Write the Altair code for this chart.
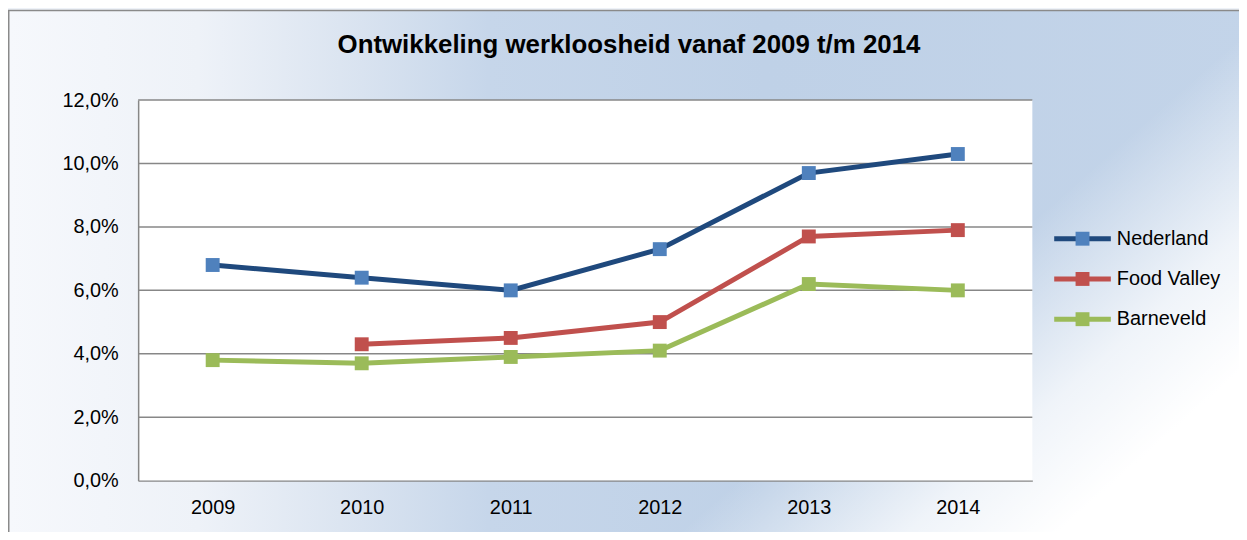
import altair as alt
import pandas as pd

# ---- data ----
years = ["2009", "2010", "2011", "2012", "2013", "2014"]
series = ["Nederland", "Food Valley", "Barneveld"]
nederland = [6.8, 6.4, 6.0, 7.3, 9.7, 10.3]
food_valley = [None, 4.3, 4.5, 5.0, 7.7, 7.9]
barneveld = [3.8, 3.7, 3.9, 4.1, 6.2, 6.0]
line_colors = ["#1F497D", "#C0504D", "#9BBB59"]
marker_colors = ["#4F81BD", "#C0504D", "#9BBB59"]
y_ticks = [0, 2, 4, 6, 8, 10, 12]
grid_values = [2, 4, 6, 8, 10, 12]
title_text = "Ontwikkeling werkloosheid vanaf 2009 t/m 2014"

FONT = "Liberation Sans, Arial, sans-serif"
GRID = "#878787"

rows = []
for name, vals in zip(series, [nederland, food_valley, barneveld]):
    for yr, v in zip(years, vals):
        if v is not None:
            rows.append({"year": yr, "series": name, "pct": v})
df = pd.DataFrame(rows)
grid_df = pd.DataFrame({"pct": grid_values})

W, H = 900, 383

x_axis = alt.Axis(title=None, labelAngle=0, ticks=False, grid=False,
                  domainColor=GRID, domainWidth=1.5, labelFontSize=20,
                  labelFont=FONT, labelColor="black", labelPadding=17, zindex=1)
y_axis = alt.Axis(title=None, values=y_ticks, grid=False, ticks=False,
                  labelExpr="replace(format(datum.value, '.1f'), '.', ',') + '%'",
                  domainColor=GRID, domainWidth=1.5, labelFontSize=20,
                  labelFont=FONT, labelColor="black", labelPadding=20, zindex=1)
x_scale = alt.Scale(type="point", padding=0.5, domain=years)
y_scale = alt.Scale(domain=[0, 12], nice=False)

one = alt.Data(values=[{}])

bg = alt.Chart(one).mark_rect(
    fill=alt.LinearGradient(
        gradient="linear",
        stops=[
            alt.GradientStop(color="#f6f8fc", offset=0),
            alt.GradientStop(color="#eef2f8", offset=0.15),
            alt.GradientStop(color="#d9e3f0", offset=0.28),
            alt.GradientStop(color="#c6d6ea", offset=0.38),
            alt.GradientStop(color="#bfd1e7", offset=0.6),
            alt.GradientStop(color="#c3d4e9", offset=1),
        ],
        x1=0, y1=0, x2=1, y2=0,
    ),
    stroke="#8a8a8a",
    strokeWidth=1.5,
).encode(x=alt.value(-130.25), x2=alt.value(1140), y=alt.value(-90.25), y2=alt.value(470))

fade = alt.Chart(one).mark_rect(
    fill=alt.LinearGradient(
        gradient="linear",
        stops=[
            alt.GradientStop(color="rgba(255,255,255,0)", offset=0),
            alt.GradientStop(color="rgba(255,255,255,0.75)", offset=0.6),
            alt.GradientStop(color="rgba(255,255,255,1)", offset=1),
        ],
        x1=0.8, y1=0.4, x2=1.04, y2=0.52,
    ),
).encode(x=alt.value(-130.25), x2=alt.value(1140), y=alt.value(-90.25), y2=alt.value(470))

plot_bg = alt.Chart(one).mark_rect(fill="white").encode(
    x=alt.value(0), x2=alt.value("width"), y=alt.value(0), y2=alt.value("height")
)

grid = alt.Chart(grid_df).mark_rule(color=GRID, strokeWidth=1.5).encode(
    y=alt.Y("pct:Q", scale=y_scale, axis=y_axis), x=alt.value(0), x2=alt.value("width")
)

legend_common = dict(
    orient="none", legendX=938, legendY=127, title=None, symbolSize=400,
    symbolStrokeWidth=5, labelFont=FONT, labelColor="black",
    padding=0, labelLimit=300,
)

lines = alt.Chart(df).mark_line(strokeWidth=5).encode(
    x=alt.X("year:O", sort=years, scale=x_scale, axis=x_axis),
    y=alt.Y("pct:Q", scale=y_scale, axis=y_axis),
    stroke=alt.Stroke(
        "series:N", sort=series,
        scale=alt.Scale(range=line_colors),
        legend=alt.Legend(symbolType="M-2.85,0H2.85", labelFontSize=20, labelOffset=22,
                          rowPadding=17.5, **legend_common),
    ),
    detail="series:N",
)

points = alt.Chart(df).mark_point(shape="square", filled=True, size=196, opacity=1, strokeWidth=0).encode(
    x=alt.X("year:O", sort=years, scale=x_scale, axis=x_axis),
    y=alt.Y("pct:Q", scale=y_scale, axis=y_axis),
    fill=alt.Fill(
        "series:N",
        scale=alt.Scale(domain=series, range=marker_colors),
        legend=alt.Legend(symbolType="M-0.7,-0.7H0.7V0.7H-0.7Z",
                          symbolStrokeColor="transparent",
                          labelFontSize=1, labelOpacity=0, labelOffset=0,
                          rowPadding=5.5, zindex=1, **legend_common),
    ),
)

chart = alt.layer(bg, fade, plot_bg, grid, lines, points).properties(
    width=W,
    height=H,
    padding={"left": 131, "top": 91, "right": 208, "bottom": 50},
    autosize=alt.AutoSizeParams(type="none"),
    title=alt.TitleParams(text=title_text, fontSize=26, fontWeight="bold", font=FONT,
                          color="black", anchor="middle", frame="group", dx=44, offset=-49),
).configure_view(stroke=None).configure(background="#eef2f8")

chart.save("out.html", embed_options={"renderer": "svg", "actions": False})
